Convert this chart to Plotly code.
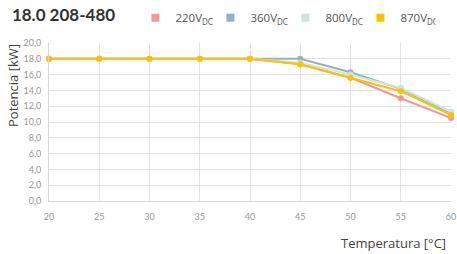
import plotly.graph_objects as go

temps = [20, 25, 30, 35, 40, 45, 50, 55, 60]
p_220 = [18.0, 18.0, 18.0, 18.0, 18.0, 17.3, 15.6, 13.0, 10.5]
p_360 = [18.0, 18.0, 18.0, 18.0, 18.0, 18.0, 16.3, 14.2, 11.1]
p_800 = [18.0, 18.0, 18.0, 18.0, 18.0, 17.5, 16.0, 14.3, 11.3]
p_870 = [18.0, 18.0, 18.0, 18.0, 18.0, 17.3, 15.6, 13.9, 10.9]

series_names = ["220V<sub>DC</sub>", "360V<sub>DC</sub>", "800V<sub>DC</sub>", "870V<sub>DC</sub>"]
series_vals = [p_220, p_360, p_800, p_870]
colors = ["#F4979C", "#90B4BD", "#CFE4DE", "#FFC000"]

y_ticks = [0, 2, 4, 6, 8, 10, 12, 14, 16, 18, 20]
y_tick_labels = ["0,0", "2,0", "4,0", "6,0", "8,0", "10,0", "12,0", "14,0", "16,0", "18,0", "20,0"]
x_ticks = [20, 25, 30, 35, 40, 45, 50, 55, 60]

fig = go.Figure()
for name, vals, c in zip(series_names, series_vals, colors):
    fig.add_trace(go.Scatter(x=temps, y=vals, mode="lines+markers", name=name,
                             line=dict(color=c, width=2), marker=dict(color=c, size=6),
                             showlegend=False, cliponaxis=False))
for name, c in zip(series_names, colors):
    fig.add_trace(go.Scatter(x=[None], y=[None], mode="markers", name=name,
                             marker=dict(color=c, size=8, symbol="square")))

fig.update_layout(
    width=457, height=254,
    margin=dict(l=49, r=6, t=43, b=53, pad=0, autoexpand=False),
    paper_bgcolor="white", plot_bgcolor="white",
    font=dict(family="Open Sans, Lato, sans-serif", color="#444"),
    title=dict(text="<b>18.0 208-480</b>", x=0.026, xanchor="left", y=0.965, yanchor="top",
               font=dict(size=17, color="#333", family="Lato, sans-serif")),
    legend=dict(orientation="h", x=0.215, xanchor="left", y=0.93, yref="container",
                yanchor="middle", font=dict(size=11.5, color="#555"), itemwidth=30,
                entrywidth=30, entrywidthmode="pixels",
                tracegroupgap=0, bgcolor="rgba(0,0,0,0)", borderwidth=0),
    xaxis=dict(range=[20, 60], tickvals=x_ticks, showgrid=True, gridcolor="#E3E3E3",
               gridwidth=1, zeroline=False, showline=True, linecolor="#D9D9D9",
               tickfont=dict(size=9, color="#999", family="Lato, sans-serif"),
               automargin=False, ticklen=0, ticklabelstandoff=7),
    yaxis=dict(range=[0, 20], tickvals=y_ticks, ticktext=y_tick_labels, showgrid=True,
               gridcolor="#E3E3E3", gridwidth=1, zeroline=False, showline=True,
               linecolor="#D9D9D9", tickfont=dict(size=9, color="#999", family="Lato, sans-serif"),
               automargin=False, ticklen=0, ticklabelstandoff=5),
    annotations=[
        dict(text="Potencia [kW]", xref="paper", yref="paper", x=-0.09, y=0.733,
             xanchor="center", yanchor="middle", textangle=-90, showarrow=False,
             font=dict(size=13, color="#444")),
        dict(text="Temperatura [°C]", xref="paper", yref="paper", x=0.9925, y=-0.266,
             xanchor="right", yanchor="middle", showarrow=False,
             font=dict(size=13, color="#444")),
    ],
)
fig.write_html("out.html", config={"displayModeBar": False},
               post_script="document.body.style.margin='0';document.body.style.overflow='hidden';")
